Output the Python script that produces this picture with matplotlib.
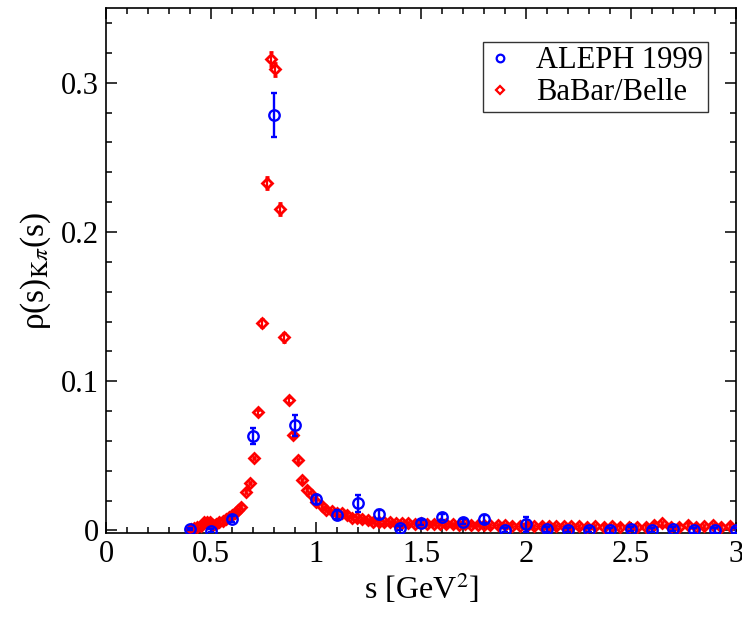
import matplotlib
matplotlib.use('Agg')
import matplotlib.pyplot as plt
from matplotlib.ticker import MultipleLocator
from matplotlib.lines import Line2D

plt.rcParams['font.family'] = ['Liberation Serif', 'DejaVu Serif']
plt.rcParams['mathtext.fontset'] = 'stix'

# ALEPH 1999
s_aleph = [0.4, 0.5, 0.6, 0.7, 0.8, 0.9, 1.0, 1.1, 1.2, 1.3, 1.4, 1.5, 1.6, 1.7, 1.8,
           1.9, 2.0, 2.1, 2.2, 2.3, 2.4, 2.5, 2.6, 2.7, 2.8, 2.9, 3.0]
rho_aleph = [0.001, -0.0003, 0.0075, 0.0632, 0.2784, 0.0706, 0.0209, 0.0104, 0.0182,
             0.011, 0.0015, 0.0052, 0.0092, 0.0059, 0.0077, 0.0003, 0.0041, 0.0008,
             0.0003, 0.0003, 0.0, 0.001, 0.0005, 0.001, 0.0, 0.0, 0.0]
err_aleph = [0.001, 0.001, 0.002, 0.0052, 0.0148, 0.007, 0.003, 0.003, 0.0055, 0.003,
             0.0015, 0.0015, 0.002, 0.0015, 0.0025, 0.0015, 0.0049, 0.0015, 0.0015,
             0.0015, 0.0015, 0.0015, 0.0015, 0.0015, 0.0015, 0.0015, 0.0015]

# BaBar/Belle
s_bb = [0.405, 0.42, 0.435, 0.45, 0.465, 0.48, 0.495, 0.51, 0.525, 0.54, 0.555, 0.57,
        0.585, 0.60, 0.615, 0.63, 0.645, 0.666, 0.685, 0.707, 0.724, 0.745, 0.766,
        0.785, 0.807, 0.827, 0.849, 0.872, 0.892, 0.915, 0.935, 0.957, 0.980, 1.001,
        1.027, 1.049, 1.074, 1.098, 1.122, 1.146, 1.17, 1.196, 1.22, 1.247, 1.273,
        1.30, 1.326, 1.353, 1.38, 1.41, 1.44, 1.47, 1.50, 1.53, 1.56, 1.59, 1.62,
        1.65, 1.68, 1.71, 1.74, 1.77, 1.80, 1.83, 1.865, 1.90, 1.935, 1.97, 2.005,
        2.04, 2.075, 2.11, 2.145, 2.18, 2.215, 2.25, 2.29, 2.33, 2.37, 2.41, 2.45,
        2.49, 2.53, 2.57, 2.61, 2.65, 2.69, 2.73, 2.77, 2.81, 2.85, 2.89, 2.93, 2.97]
rho_bb = [0.001, 0.002, 0.0025, 0.003, 0.006, 0.006, 0.0055, 0.004, 0.0045, 0.0055,
          0.0065, 0.0075, 0.009, 0.0105, 0.012, 0.0135, 0.016, 0.026, 0.0319, 0.0486,
          0.0791, 0.139, 0.2326, 0.316, 0.309, 0.2154, 0.1296, 0.0872, 0.0642, 0.047,
          0.0336, 0.0274, 0.0236, 0.0192, 0.0167, 0.014, 0.0129, 0.0118, 0.0114, 0.0107,
          0.0085, 0.0082, 0.0074, 0.0067, 0.006, 0.0056, 0.0056, 0.0055, 0.005, 0.0048,
          0.0047, 0.0046, 0.0048, 0.0045, 0.0044, 0.0045, 0.0042, 0.0043, 0.004, 0.0041,
          0.0038, 0.004, 0.0037, 0.0036, 0.0035, 0.0034, 0.0033, 0.0032, 0.0033, 0.003,
          0.0032, 0.0029, 0.003, 0.0028, 0.003, 0.0027, 0.0026, 0.0028, 0.0025, 0.0027,
          0.0024, 0.0026, 0.0022, 0.0025, 0.0038, 0.0048, 0.0022, 0.0025, 0.0037,
          0.0024, 0.0028, 0.0035, 0.0026, 0.0033]
err_bb = [0.0008] * 20 + [0.0015, 0.003, 0.004, 0.0045, 0.0045, 0.004, 0.003, 0.002,
                          0.0015] + [0.001] * 65

fig = plt.figure(figsize=(7.42, 6.18), dpi=100)
ax = fig.add_axes([0.1429, 0.1375, 0.8490, 0.8495])

ax.errorbar(s_bb, rho_bb, yerr=err_bb, fmt='D', color='red', ms=5.5, mfc='none',
            mew=2.0, elinewidth=1.6, capsize=1.5, capthick=1.6, zorder=3)
ax.errorbar(s_aleph, rho_aleph, yerr=err_aleph, fmt='o', color='blue', ms=7.5, mfc='none',
            mew=1.7, elinewidth=1.7, capsize=2, capthick=1.7, zorder=4)

ax.set_xlim(0, 3)
ax.set_ylim(-0.0017, 0.35)
ax.xaxis.set_major_locator(MultipleLocator(0.5))
ax.xaxis.set_minor_locator(MultipleLocator(0.1))
ax.yaxis.set_major_locator(MultipleLocator(0.1))
ax.yaxis.set_minor_locator(MultipleLocator(0.02))
ax.xaxis.set_major_formatter(plt.FuncFormatter(lambda v, p: f'{v:g}'))
ax.yaxis.set_major_formatter(plt.FuncFormatter(lambda v, p: f'{v:g}'))
ax.tick_params(which='both', direction='in', top=True, right=True, labelsize=22, width=1.1)
ax.tick_params(which='major', length=8, pad=5)
ax.tick_params(which='minor', length=4)
for sp in ax.spines.values():
    sp.set_linewidth(1.2)

ax.set_xlabel(r's [GeV$^2$]', fontsize=23, labelpad=2)
ax.set_ylabel('ρ(s)$_{\\mathrm{K}\\pi}$(s)', fontsize=24, labelpad=6)

handles = [
    Line2D([], [], ls='none', marker='o', ms=5.5, mfc='none', mec='blue', mew=1.6),
    Line2D([], [], ls='none', marker='D', ms=4, mfc='none', mec='red', mew=1.6),
]
leg = ax.legend(handles, ['ALEPH 1999', 'BaBar/Belle'], loc='upper right',
                bbox_to_anchor=(0.955, 0.936), fontsize=22, frameon=True, fancybox=False,
                edgecolor='black', handlelength=0.8, handletextpad=0.8, borderpad=0.15,
                labelspacing=0.1, borderaxespad=0)
leg.get_frame().set_linewidth(1.0)

fig.savefig('out.png', dpi=100)
